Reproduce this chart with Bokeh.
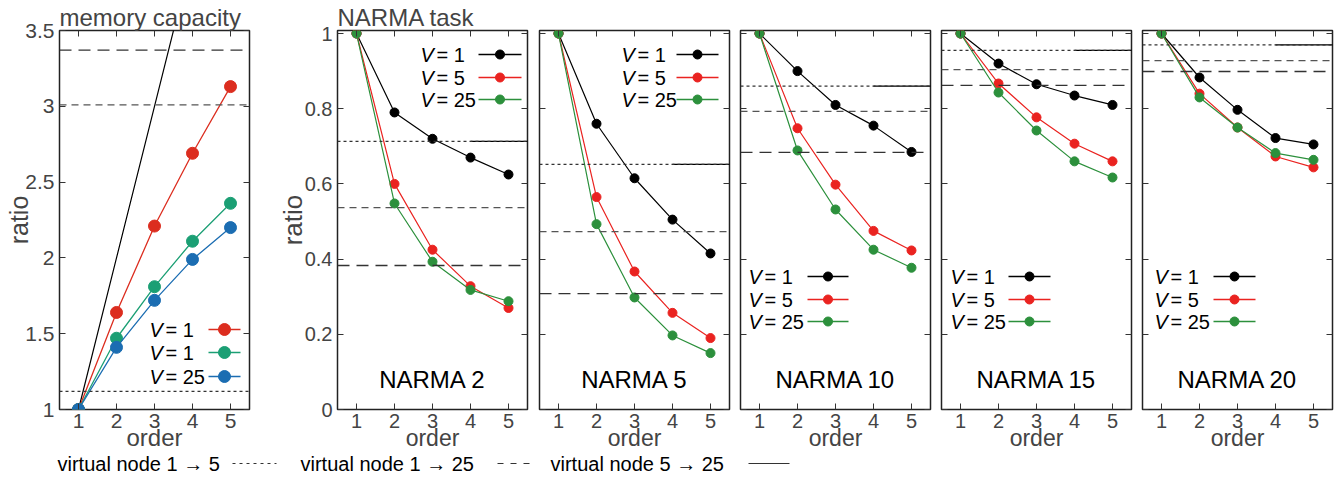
from bokeh.plotting import figure
from bokeh.layouts import row, column
from bokeh.models import Span, LinearAxis, FixedTicker, CustomJSTickFormatter, Range1d
from bokeh.embed import file_html
from bokeh.resources import INLINE
from bokeh.core.properties import value

# ---------------- data ----------------
order = [1, 2, 3, 4, 5]
x_ticks = [1, 2, 3, 4, 5]
x_tick_labels = ["1", "2", "3", "4", "5"]
mc_y_ticks = [1, 1.5, 2, 2.5, 3, 3.5]
mc_y_tick_labels = ["1", "1.5", "2", "2.5", "3", "3.5"]
narma_y_ticks = [0, 0.2, 0.4, 0.6, 0.8, 1]
narma_y_tick_labels = ["0", "0.2", "0.4", "0.6", "0.8", "1"]

mc_ideal = [1, 2, 3, 4, 5]
mc_red = [1, 1.64, 2.21, 2.69, 3.13]
mc_teal = [1, 1.47, 1.81, 2.11, 2.36]
mc_blue = [1, 1.41, 1.72, 1.99, 2.20]
mc_legend_values = ["1", "1", "25"]
mc_dot = 1.12
mc_med = 3.01
mc_long = 3.37

narma_names = ["NARMA 2", "NARMA 5", "NARMA 10", "NARMA 15", "NARMA 20"]
narma_v1 = [[1, 0.79, 0.72, 0.67, 0.625],
            [1, 0.76, 0.615, 0.505, 0.415],
            [1, 0.90, 0.81, 0.755, 0.685],
            [1, 0.92, 0.865, 0.835, 0.81],
            [1, 0.883, 0.797, 0.722, 0.705]]
narma_v5 = [[1, 0.60, 0.425, 0.328, 0.27],
            [1, 0.565, 0.367, 0.257, 0.19],
            [1, 0.748, 0.598, 0.475, 0.423],
            [1, 0.867, 0.777, 0.707, 0.66],
            [1, 0.84, 0.75, 0.673, 0.644]]
narma_v25 = [[1, 0.548, 0.393, 0.318, 0.288],
             [1, 0.493, 0.298, 0.197, 0.15],
             [1, 0.689, 0.532, 0.425, 0.377],
             [1, 0.843, 0.742, 0.66, 0.617],
             [1, 0.83, 0.75, 0.682, 0.664]]
narma_legend_values = ["1", "5", "25"]
narma_dot = [0.713, 0.652, 0.86, 0.955, 0.97]
narma_med = [0.537, 0.473, 0.793, 0.904, 0.928]
narma_long = [0.383, 0.308, 0.684, 0.862, 0.899]
solid_from = 4

bottom_labels = ["virtual node 1 \u2192 5", "virtual node 1 \u2192 25", "virtual node 5 \u2192 25"]

# ---------------- style ----------------
FONT = value("Liberation Sans")
FONTN = "Liberation Sans"
LEG_FS = "20px"
TOP = 30
FW = 190
FH = 379
STRIP_H = 30

C_RED_MC = "#dc2d1f"
C_TEAL = "#1b9f74"
C_BLUE = "#1b6db2"
C_RED = "#ea2320"
C_GREEN = "#2c903c"

DOT = "3 3"
MED = "7 5"
LONG = "12 7"


def fmt(labels):
    return CustomJSTickFormatter(args=dict(labels=labels), code="return labels[index];")


def mirror(p, side, ticks):
    ax = LinearAxis(ticker=FixedTicker(ticks=ticks),
                    formatter=CustomJSTickFormatter(code="return '';"),
                    major_label_text_font_size="0px", major_label_standoff=0,
                    major_tick_in=6, major_tick_out=0, major_tick_line_color="#333",
                    minor_tick_line_color=None, axis_line_color=None)
    p.add_layout(ax, side)


def panel(left, right, yr, yticks, ylabels, show_y, tick_fs, xlab_fs, xlab_standoff,
          ylab_fs, ylab_standoff, ylabel=None, title=None):
    p = figure(frame_width=FW, frame_height=FH, x_range=Range1d(0.5, 5.5), y_range=Range1d(*yr),
               output_backend="svg", toolbar_location=None,
               min_border_left=left, min_border_right=right,
               min_border_top=TOP, min_border_bottom=30)
    p.grid.visible = False
    p.outline_line_color = "#222"
    p.outline_line_width = 1.5
    p.background_fill_color = "white"
    p.border_fill_color = "white"
    # x axis
    xa = p.xaxis[0]
    xa.ticker = FixedTicker(ticks=x_ticks)
    xa.formatter = fmt(x_tick_labels)
    xa.axis_label = "order"
    xa.axis_label_text_font = FONTN
    xa.axis_label_text_font_size = xlab_fs
    xa.axis_label_text_font_style = "normal"
    xa.axis_label_standoff = xlab_standoff
    xa.major_label_text_font = FONTN
    xa.major_label_text_font_size = tick_fs
    xa.major_label_standoff = 4
    xa.major_tick_in = 6
    xa.major_tick_out = 0
    xa.major_tick_line_color = "#333"
    xa.minor_tick_line_color = None
    xa.axis_line_color = None
    # y axis
    ya = p.yaxis[0]
    ya.ticker = FixedTicker(ticks=yticks)
    ya.major_tick_in = 6
    ya.major_tick_out = 0
    ya.major_tick_line_color = "#333"
    ya.minor_tick_line_color = None
    ya.axis_line_color = None
    if show_y:
        ya.formatter = fmt(ylabels)
        ya.major_label_text_font = FONTN
        ya.major_label_text_font_size = tick_fs
        ya.major_label_standoff = 5
        ya.axis_label = ylabel
        ya.axis_label_text_font = FONTN
        ya.axis_label_text_font_size = ylab_fs
        ya.axis_label_text_font_style = "normal"
        ya.axis_label_standoff = ylab_standoff
    else:
        ya.formatter = CustomJSTickFormatter(code="return '';")
        ya.major_label_text_font_size = "0px"
        ya.major_label_standoff = 0
    mirror(p, "right", yticks)
    mirror(p, "above", x_ticks)
    if title:
        p.title.text = title
        p.title.text_font = FONTN
        p.title.text_font_size = "24px"
        p.title.text_font_style = "normal"
        p.title.align = "left"
        p.title.standoff = 0
        p.title.offset = 0
    return p


def px2x(p, left_px, px):
    r = p.x_range
    return r.start + (px - left_px) / FW * (r.end - r.start)


def py2y(p, py):
    r = p.y_range
    bottom = TOP + FH
    return r.start + (bottom - py) / FH * (r.end - r.start)


def hlines(p, dot, med, lng, with_solid):
    p.add_layout(Span(location=dot, dimension="width", line_color="#333", line_width=1.2, line_dash=DOT))
    p.add_layout(Span(location=med, dimension="width", line_color="#555", line_width=1.3, line_dash=MED))
    p.add_layout(Span(location=lng, dimension="width", line_color="#333", line_width=1.3, line_dash=LONG))
    if with_solid:
        p.segment(x0=[solid_from], y0=[dot], x1=[5.6], y1=[dot], line_color="black", line_width=1.2)


def legend(p, left_px, x_text, x_l0, x_l1, ys_px, vals, colors, msize):
    for ypx, v, c in zip(ys_px, vals, colors):
        yy = py2y(p, ypx)
        xt = px2x(p, left_px, x_text)
        p.text(x=[xt], y=[yy], text=["V"], text_font=FONT, text_font_style="italic",
               text_font_size=LEG_FS, text_baseline="middle", text_align="left", text_color="black")
        p.text(x=[xt], y=[yy], text=["= " + v], x_offset=16, text_font=FONT,
               text_font_size=LEG_FS, text_baseline="middle", text_align="left", text_color="black")
        xa, xb = px2x(p, left_px, x_l0), px2x(p, left_px, x_l1)
        p.line(x=[xa, xb], y=[yy, yy], line_color=c, line_width=1.3)
        p.scatter(x=[(xa + xb) / 2], y=[yy], size=msize, color=c)


# ---------------- memory capacity panel ----------------
fig_lefts = [59, 67, 5, 5, 5, 5]
fig_rights = [21, 7, 6, 6, 6, 11]
frame_lefts = [59, 337, 539, 740, 941, 1142]

pm = panel(fig_lefts[0], fig_rights[0], (1, 3.5),
           mc_y_ticks, mc_y_tick_labels, True, "21px", "24px", -7, "25px", -11,
           ylabel="ratio", title="memory capacity")
hlines(pm, mc_dot, mc_med, mc_long, False)
pm.line(order, mc_ideal, line_color="black", line_width=1.2)
for ys, c in [(mc_red, C_RED_MC), (mc_teal, C_TEAL), (mc_blue, C_BLUE)]:
    pm.line(order, ys, line_color=c, line_width=1.3)
    pm.scatter(order, ys, size=12, color=c)
legend(pm, 59, 149, 208, 240, [329, 352, 376], mc_legend_values, [C_RED_MC, C_TEAL, C_BLUE], 12)

figs = [pm]

# ---------------- NARMA panels ----------------
leg_pos = [  # x_text, line start, line end, row ys (px)
    (420, 478, 521, [54, 77, 99]),
    (621, 676, 718, [54, 77, 99]),
    (748, 807, 848, [276, 299, 321]),
    (950, 1008, 1050, [276, 299, 321]),
    (1154, 1213, 1255, [276, 299, 321]),
]
for i, name in enumerate(narma_names):
    p = panel(fig_lefts[i + 1], fig_rights[i + 1], (0, 1.008), narma_y_ticks, narma_y_tick_labels,
              i == 0, "20px", "23px", -6, "26px", -6,
              ylabel="ratio", title="NARMA task" if i == 0 else None)
    hlines(p, narma_dot[i], narma_med[i], narma_long[i], True)
    for ys, c in [(narma_v1[i], "black"), (narma_v5[i], C_RED), (narma_v25[i], C_GREEN)]:
        p.line(order, ys, line_color=c, line_width=1.2)
        p.scatter(order, ys, size=9, color=c)
    fl = frame_lefts[i + 1]
    xt, l0, l1, yrows = leg_pos[i]
    legend(p, fl, xt, l0, l1, yrows, narma_legend_values, ["black", C_RED, C_GREEN], 9)
    p.text(x=[3], y=[py2y(p, 379)], text=[name], text_font=FONT, text_font_size="24px",
           text_align="center", text_baseline="middle", text_color="black")
    figs.append(p)

# ---------------- bottom key strip ----------------
ps = figure(width=1343, height=STRIP_H, x_range=Range1d(0, 1343), y_range=Range1d(0, STRIP_H),
            output_backend="svg", toolbar_location=None, x_axis_type=None, y_axis_type=None,
            min_border=0)
ps.grid.visible = False
ps.outline_line_color = None
key_y = STRIP_H - 10
key_text_x = [57, 300, 550]
key_line = [(232, 276, "3 4"), (497, 536, "6 7"), (748, 789, "solid")]
for lab, tx, (a, b, dash) in zip(bottom_labels, key_text_x, key_line):
    ps.text(x=[tx], y=[key_y], text=[lab], text_font=FONT, text_font_size="20px",
            text_baseline="middle", text_align="left", text_color="black")
    ps.line(x=[a, b], y=[key_y, key_y], line_color="#333", line_width=1.2, line_dash=dash)

layout = column(row(*figs, spacing=0), ps, spacing=0)
open("out.html", "w").write(file_html(layout, INLINE))
